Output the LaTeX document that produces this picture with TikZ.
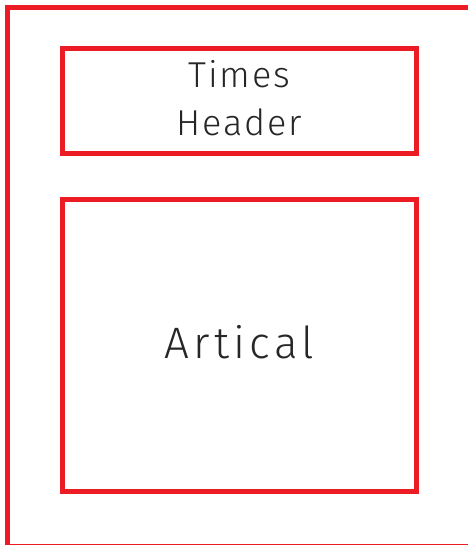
\documentclass[tikz,border=0pt]{standalone}
\usepackage{fontspec}
\setmainfont{Fira Sans Light}
\definecolor{framered}{RGB}{237,28,36}

\begin{document}
\begin{tikzpicture}[x=1pt,y=-1pt,
    box/.style={draw=framered, line width=5pt, minimum width=353.5pt, inner sep=0pt},
    label/.style={font=\fontsize{36}{48}\selectfont\addfontfeature{LetterSpace=5}, text=black!85, align=center}]
      \useasboundingbox (0,0) rectangle (467,545);
      % page frame
      \draw[framered, line width=5pt] (480,7.5) -- (7.5,7.5) -- (7.5,546.5) -- (480,546.5);
      % header
      \node[box, minimum height=105pt] (header) at (239.25,101) {};
      \node[label] (headertext) at ([yshift=3pt]header.center) {Times\\Header};
      % article
      \node[box, minimum height=292pt] (article) at (239.25,345.5) {};
      \node[label, font=\fontsize{44}{50}\selectfont\addfontfeature{LetterSpace=10}] (articletext) at ([yshift=3pt]article.center) {Artical};
    \end{tikzpicture}
\end{document}
